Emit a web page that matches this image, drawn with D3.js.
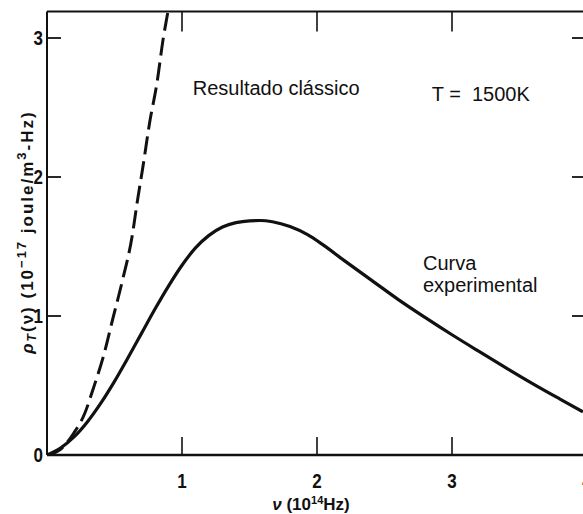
<!DOCTYPE html>
<html>
<head>
<meta charset="utf-8">
<script src="https://cdn.jsdelivr.net/npm/d3@7"></script>
<style>
  html, body { margin: 0; padding: 0; background: #fff; }
  svg { display: block; }
  .tick-label { font-family: "Liberation Sans", Arial, sans-serif; font-weight: bold; font-size: 20px; fill: #111; }
  .axis-title { font-family: "Liberation Sans", Arial, sans-serif; font-weight: bold; font-size: 17px; fill: #111; }
  .note { font-family: "Liberation Sans", Arial, sans-serif; font-size: 20px; fill: #111; }
</style>
</head>
<body>
<div id="chart"></div>
<script>
// values (nu in 1e14 Hz, rho in 1e-17 J/m^3-Hz)
const experimental = [
  [0, 0], [0.1, 0.05], [0.2, 0.13], [0.3, 0.24], [0.4, 0.375], [0.5, 0.53], [0.6, 0.7],
  [0.7, 0.875], [0.8, 1.05], [0.9, 1.215], [1.0, 1.365], [1.1, 1.49], [1.2, 1.58],
  [1.3, 1.64], [1.4, 1.672], [1.5, 1.685], [1.58, 1.687], [1.67, 1.678], [1.8, 1.643],
  [1.93, 1.585], [2.04, 1.515], [2.2, 1.4], [2.4, 1.26], [2.6, 1.12], [2.8, 0.99],
  [3.0, 0.865], [3.2, 0.745], [3.4, 0.627], [3.6, 0.512], [3.8, 0.402], [3.97, 0.31]
];
const classical = [
  [0, 0], [0.1, 0.04], [0.2, 0.16], [0.28, 0.3], [0.34, 0.47], [0.415, 0.7], [0.49, 0.99],
  [0.56, 1.26], [0.63, 1.57], [0.67, 1.83], [0.71, 2.07], [0.76, 2.39], [0.815, 2.68],
  [0.86, 2.99], [0.896, 3.19]
];
const xTicks = [1, 2, 3];
const yTicks = [1, 2, 3];
const xTickLabels = [1, 2, 3, 4];
const yTickLabels = [0, 1, 2, 3];
const notes = [
  { text: "Resultado clássico", x: 1.08, y: 2.59 },
  { text: "T =\u00a0\u00a01500K", x: 2.85, y: 2.545 },
  { text: "Curva", x: 2.785, y: 1.33 },
  { text: "experimental", x: 2.785, y: 1.17 }
];

const width = 583, height = 514;
const x = d3.scaleLinear().domain([0, 4]).range([47, 587]);
const y = d3.scaleLinear().domain([0, 3]).range([455, 38]);
const yTop = 3.19;

const svg = d3.select("#chart").append("svg")
  .attr("width", width).attr("height", height);

svg.append("defs").append("clipPath").attr("id", "plot")
  .append("rect")
  .attr("x", x(0)).attr("y", y(yTop))
  .attr("width", x(4) - x(0)).attr("height", y(0) - y(yTop));

const line = d3.line()
  .x(d => x(d[0]))
  .y(d => y(d[1]))
  .curve(d3.curveMonotoneX);

const plot = svg.append("g").attr("clip-path", "url(#plot)");

plot.append("path")
  .datum(classical)
  .attr("fill", "none")
  .attr("stroke", "#111")
  .attr("stroke-width", 3)
  .attr("stroke-dasharray", "18,7")
  .attr("d", line);

plot.append("path")
  .datum(experimental)
  .attr("fill", "none")
  .attr("stroke", "#111")
  .attr("stroke-width", 3.2)
  .attr("d", line);

// frame
const frame = svg.append("g").attr("stroke", "#111").attr("fill", "none");
frame.append("line").attr("x1", x(0)).attr("x2", x(4)).attr("y1", y(0)).attr("y2", y(0)).attr("stroke-width", 2.5);
frame.append("line").attr("x1", x(0)).attr("x2", x(4)).attr("y1", y(yTop)).attr("y2", y(yTop)).attr("stroke-width", 2);
frame.append("line").attr("x1", x(0)).attr("x2", x(0)).attr("y1", y(0)).attr("y2", y(yTop)).attr("stroke-width", 2);
frame.append("line").attr("x1", x(4)).attr("x2", x(4)).attr("y1", y(0)).attr("y2", y(yTop)).attr("stroke-width", 2);

// inward ticks
xTicks.forEach(t => {
  frame.append("line").attr("x1", x(t)).attr("x2", x(t)).attr("y1", y(0)).attr("y2", y(0) - 18).attr("stroke-width", 1.6);
  frame.append("line").attr("x1", x(t)).attr("x2", x(t)).attr("y1", y(yTop)).attr("y2", y(yTop) + 20).attr("stroke-width", 1.6);
});
yTicks.forEach(t => {
  frame.append("line").attr("x1", x(0)).attr("x2", x(0) + 14).attr("y1", y(t)).attr("y2", y(t)).attr("stroke-width", 1.8);
  frame.append("line").attr("x1", x(4)).attr("x2", x(4) - 15).attr("y1", y(t)).attr("y2", y(t)).attr("stroke-width", 1.8);
});

// tick labels (narrow bold digits)
svg.selectAll(".xt").data(xTickLabels).join("text")
  .attr("class", "tick-label xt")
  .attr("transform", d => `translate(${x(d)},488) scale(0.85,1)`)
  .attr("text-anchor", "middle")
  .text(d => d);
svg.selectAll(".yt").data(yTickLabels).join("text")
  .attr("class", "tick-label yt")
  .attr("transform", d => `translate(43,${y(d) + 7}) scale(0.85,1)`)
  .attr("text-anchor", "end")
  .text(d => d);

// x title
const xt = svg.append("text").attr("class", "axis-title")
  .attr("x", 311).attr("y", 510).attr("text-anchor", "middle");
xt.append("tspan").attr("font-style", "italic").text("ν");
xt.append("tspan").text(" (10");
xt.append("tspan").attr("dy", -6).attr("font-size", 11).text("14");
xt.append("tspan").attr("dy", 6).text("Hz)");

// y title
const yt = svg.append("text").attr("class", "axis-title")
  .attr("font-size", 18)
  .attr("letter-spacing", 2)
  .attr("transform", "translate(33,232) rotate(-90)")
  .attr("text-anchor", "middle");
yt.append("tspan").attr("font-style", "italic").text("ρ");
yt.append("tspan").attr("dy", 3).attr("font-size", 12).attr("font-style", "italic").text("T");
yt.append("tspan").attr("dy", -3).text("(ν) (10");
yt.append("tspan").attr("dy", -7).attr("font-size", 13).text("−17");
yt.append("tspan").attr("dy", 7).text(" joule/m");
yt.append("tspan").attr("dy", -7).attr("font-size", 13).text("3");
yt.append("tspan").attr("dy", 7).text("-Hz)");

// annotations
svg.selectAll(".note").data(notes).join("text")
  .attr("class", "note")
  .attr("x", d => x(d.x)).attr("y", d => y(d.y))
  .text(d => d.text);
</script>
</body>
</html>
